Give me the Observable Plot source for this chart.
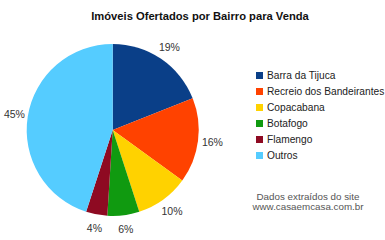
<!DOCTYPE html>
<html>
<head>
<meta charset="utf-8">
<script src="https://cdn.jsdelivr.net/npm/d3@7"></script>
<script src="https://cdn.jsdelivr.net/npm/@observablehq/plot@0.6"></script>
<style>
  html, body { margin: 0; padding: 0; background: #fff; }
  #wrap { position: relative; width: 385px; height: 240px; font-family: Arial, "Liberation Sans", sans-serif; }
  #title { position: absolute; left: 0; width: 400px; top: 10px; text-align: center; font-weight: bold; font-size: 11.2px; color: #111; }
  #legend { position: absolute; left: 256px; top: 69px; font-size: 10.2px; color: #222; }
  .row { height: 16px; line-height: 14px; white-space: nowrap; }
  .sw { display: inline-block; width: 7px; height: 7px; margin-right: 4px; vertical-align: 0px; }
  #caption { position: absolute; left: 236px; width: 144px; top: 192px; text-align: center; font-size: 9.8px; line-height: 10px; color: #555; }
  #chart { position: absolute; left: 0; top: 0; }
</style>
</head>
<body>
<div id="wrap">
  <div id="chart"></div>
  <div id="title"></div>
  <div id="legend"></div>
  <div id="caption"></div>
</div>
<script>
const titleText = "Imóveis Ofertados por Bairro para Venda";
const categories = ["Barra da Tijuca", "Recreio dos Bandeirantes", "Copacabana", "Botafogo", "Flamengo", "Outros"];
const values = [19, 16, 10, 6, 4, 45];
const colors = ["#0a3f88", "#ff4200", "#ffd200", "#109a10", "#8e0a22", "#55ccff"];
const captionLines = ["Dados extraídos do site", "www.casaemcasa.com.br"];

const total = d3.sum(values);
const pieGen = d3.pie().sort(null).value(d => d.value);
const slices = pieGen(categories.map((c, i) => ({category: c, value: values[i], color: colors[i]})));
const labelR = 100 / 86;
const labels = slices.map(s => {
  const mid = (s.startAngle + s.endAngle) / 2;
  return {text: Math.round(s.data.value / total * 100) + "%", x: labelR * Math.sin(mid), y: labelR * Math.cos(mid)};
});

const cx = 112.7, cy = 130, R = 86;

const chart = Plot.plot({
  width: 385,
  height: 240,
  margin: 0,
  x: {domain: [-1, 1], range: [cx - R, cx + R], axis: null},
  y: {domain: [-1, 1], range: [cy + R, cy - R], axis: null},
  style: {background: "transparent", fontFamily: "Arial, 'Liberation Sans', sans-serif"},
  marks: [
    (index, scales) => {
      const x0 = scales.x(0), y0 = scales.y(0);
      const r = scales.x(1) - scales.x(0);
      const arc = d3.arc().innerRadius(0).outerRadius(r);
      const g = d3.create("svg:g").attr("transform", `translate(${x0},${y0})`);
      g.selectAll("path").data(slices).join("path")
        .attr("d", arc)
        .attr("fill", d => d.data.color)
        .attr("stroke", "none");
      return g.node();
    },
    Plot.text(labels, {x: "x", y: "y", text: "text", fontSize: 10.5, fill: "#333", textAnchor: "middle"})
  ]
});
document.getElementById("chart").appendChild(chart);

document.getElementById("title").textContent = titleText;
const legend = d3.select("#legend");
categories.forEach((c, i) => {
  const row = legend.append("div").attr("class", "row");
  row.append("span").attr("class", "sw").style("background", colors[i]);
  row.append("span").text(c);
});
const cap = d3.select("#caption");
captionLines.forEach(l => cap.append("div").text(l));
</script>
</body>
</html>
